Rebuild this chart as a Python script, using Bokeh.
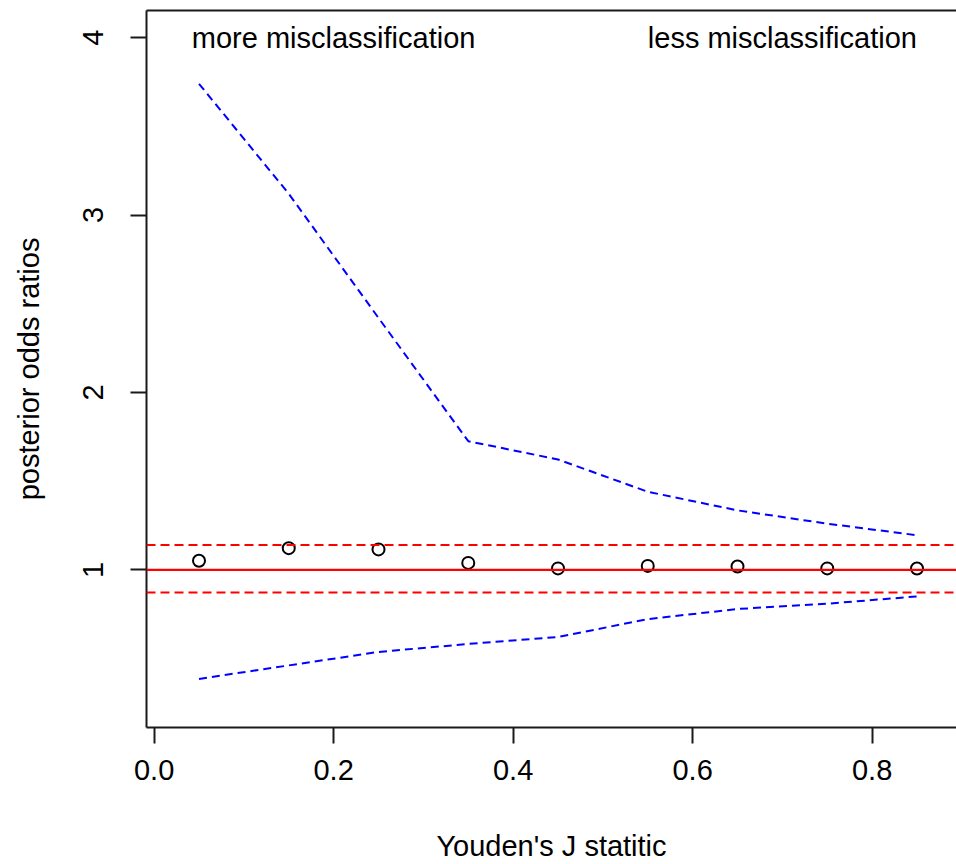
from bokeh.plotting import figure
from bokeh.models import Range1d, FixedTicker, Span, LinearAxis, PrintfTickFormatter
from bokeh.core.properties import value
from bokeh.embed import file_html
from bokeh.resources import INLINE

# ---- data ----
j_stat = [0.05, 0.15, 0.25, 0.35, 0.45, 0.55, 0.65, 0.75, 0.85]
posterior_or = [1.051, 1.122, 1.115, 1.039, 1.008, 1.022, 1.019, 1.008, 1.007]
upper_limit = [3.74, 3.12, 2.42, 1.725, 1.622, 1.44, 1.335, 1.26, 1.195]
lower_limit = [0.385, 0.461, 0.537, 0.582, 0.621, 0.722, 0.779, 0.809, 0.85]
reference_or = 1.0
band_upper = 1.14
band_lower = 0.872
x_ticks = [0.0, 0.2, 0.4, 0.6, 0.8]
y_ticks = [1, 2, 3, 4]
annot_text = ["more misclassification", "less misclassification"]
annot_x = [0.2, 0.7]
annot_y = [4, 4]
x_title = "Youden's J statitic"
y_title = "posterior odds ratios"

FONT = "Liberation Sans"
FS = "29px"
INK = "#1a1a1a"

p = figure(width=956, height=864,
           x_range=Range1d(-0.0085, 0.894), y_range=Range1d(0.111, 4.153),
           output_backend="svg", toolbar_location=None,
           min_border_left=146, min_border_right=0,
           min_border_top=10, min_border_bottom=137)
p.outline_line_color = None
p.grid.visible = False
p.background_fill_color = "white"
p.border_fill_color = "white"

# x axis
xa = p.xaxis[0]
xa.ticker = FixedTicker(ticks=x_ticks)
xa.formatter = PrintfTickFormatter(format="%.1f")
xa.axis_label = x_title
xa.axis_label_standoff = 47
# y axis
ya = p.yaxis[0]
ya.ticker = FixedTicker(ticks=y_ticks)
ya.formatter = PrintfTickFormatter(format="%d")
ya.major_label_orientation = "vertical"
ya.axis_label = y_title
ya.axis_label_standoff = 36

for ax in (xa, ya):
    ax.axis_line_color = INK
    ax.axis_line_width = 2
    ax.major_tick_line_color = INK
    ax.major_tick_line_width = 2
    ax.major_tick_out = 16
    ax.major_tick_in = 0
    ax.minor_tick_out = 0
    ax.minor_tick_in = 0
    ax.major_label_text_font = FONT
    ax.major_label_text_font_size = FS
    ax.major_label_text_color = "black"
    ax.axis_label_text_font = FONT
    ax.axis_label_text_font_size = FS
    ax.axis_label_text_font_style = "normal"
    ax.axis_label_text_color = "black"
xa.major_label_standoff = 16
ya.major_label_standoff = 27

# top border of the box: a bare axis line
top = LinearAxis(ticker=FixedTicker(ticks=[]), major_tick_out=0, major_tick_in=0,
                 minor_tick_out=0, minor_tick_in=0, major_label_standoff=0,
                 axis_line_color=INK, axis_line_width=2)
p.add_layout(top, "above")

# reference lines
p.add_layout(Span(location=reference_or, dimension="width",
                  line_color="#ff0000", line_width=2.2))
p.add_layout(Span(location=band_upper, dimension="width",
                  line_color="#ff0000", line_width=2, line_dash="9 5"))
p.add_layout(Span(location=band_lower, dimension="width",
                  line_color="#ff0000", line_width=2, line_dash="9 5"))

# credible limits
p.line(j_stat, upper_limit, line_color="#0000ff", line_width=2, line_dash="8 5")
p.line(j_stat, lower_limit, line_color="#0000ff", line_width=2, line_dash="8 5")

# point estimates
p.scatter(j_stat, posterior_or, marker="circle", size=12,
          fill_color=None, line_color="black", line_width=2)

# annotations
p.text(x=annot_x, y=annot_y, text=annot_text,
       text_font=value(FONT), text_font_size=value(FS),
       text_align="center", text_baseline="middle", text_color="black")

open("out.html", "w").write(file_html(p, INLINE))
